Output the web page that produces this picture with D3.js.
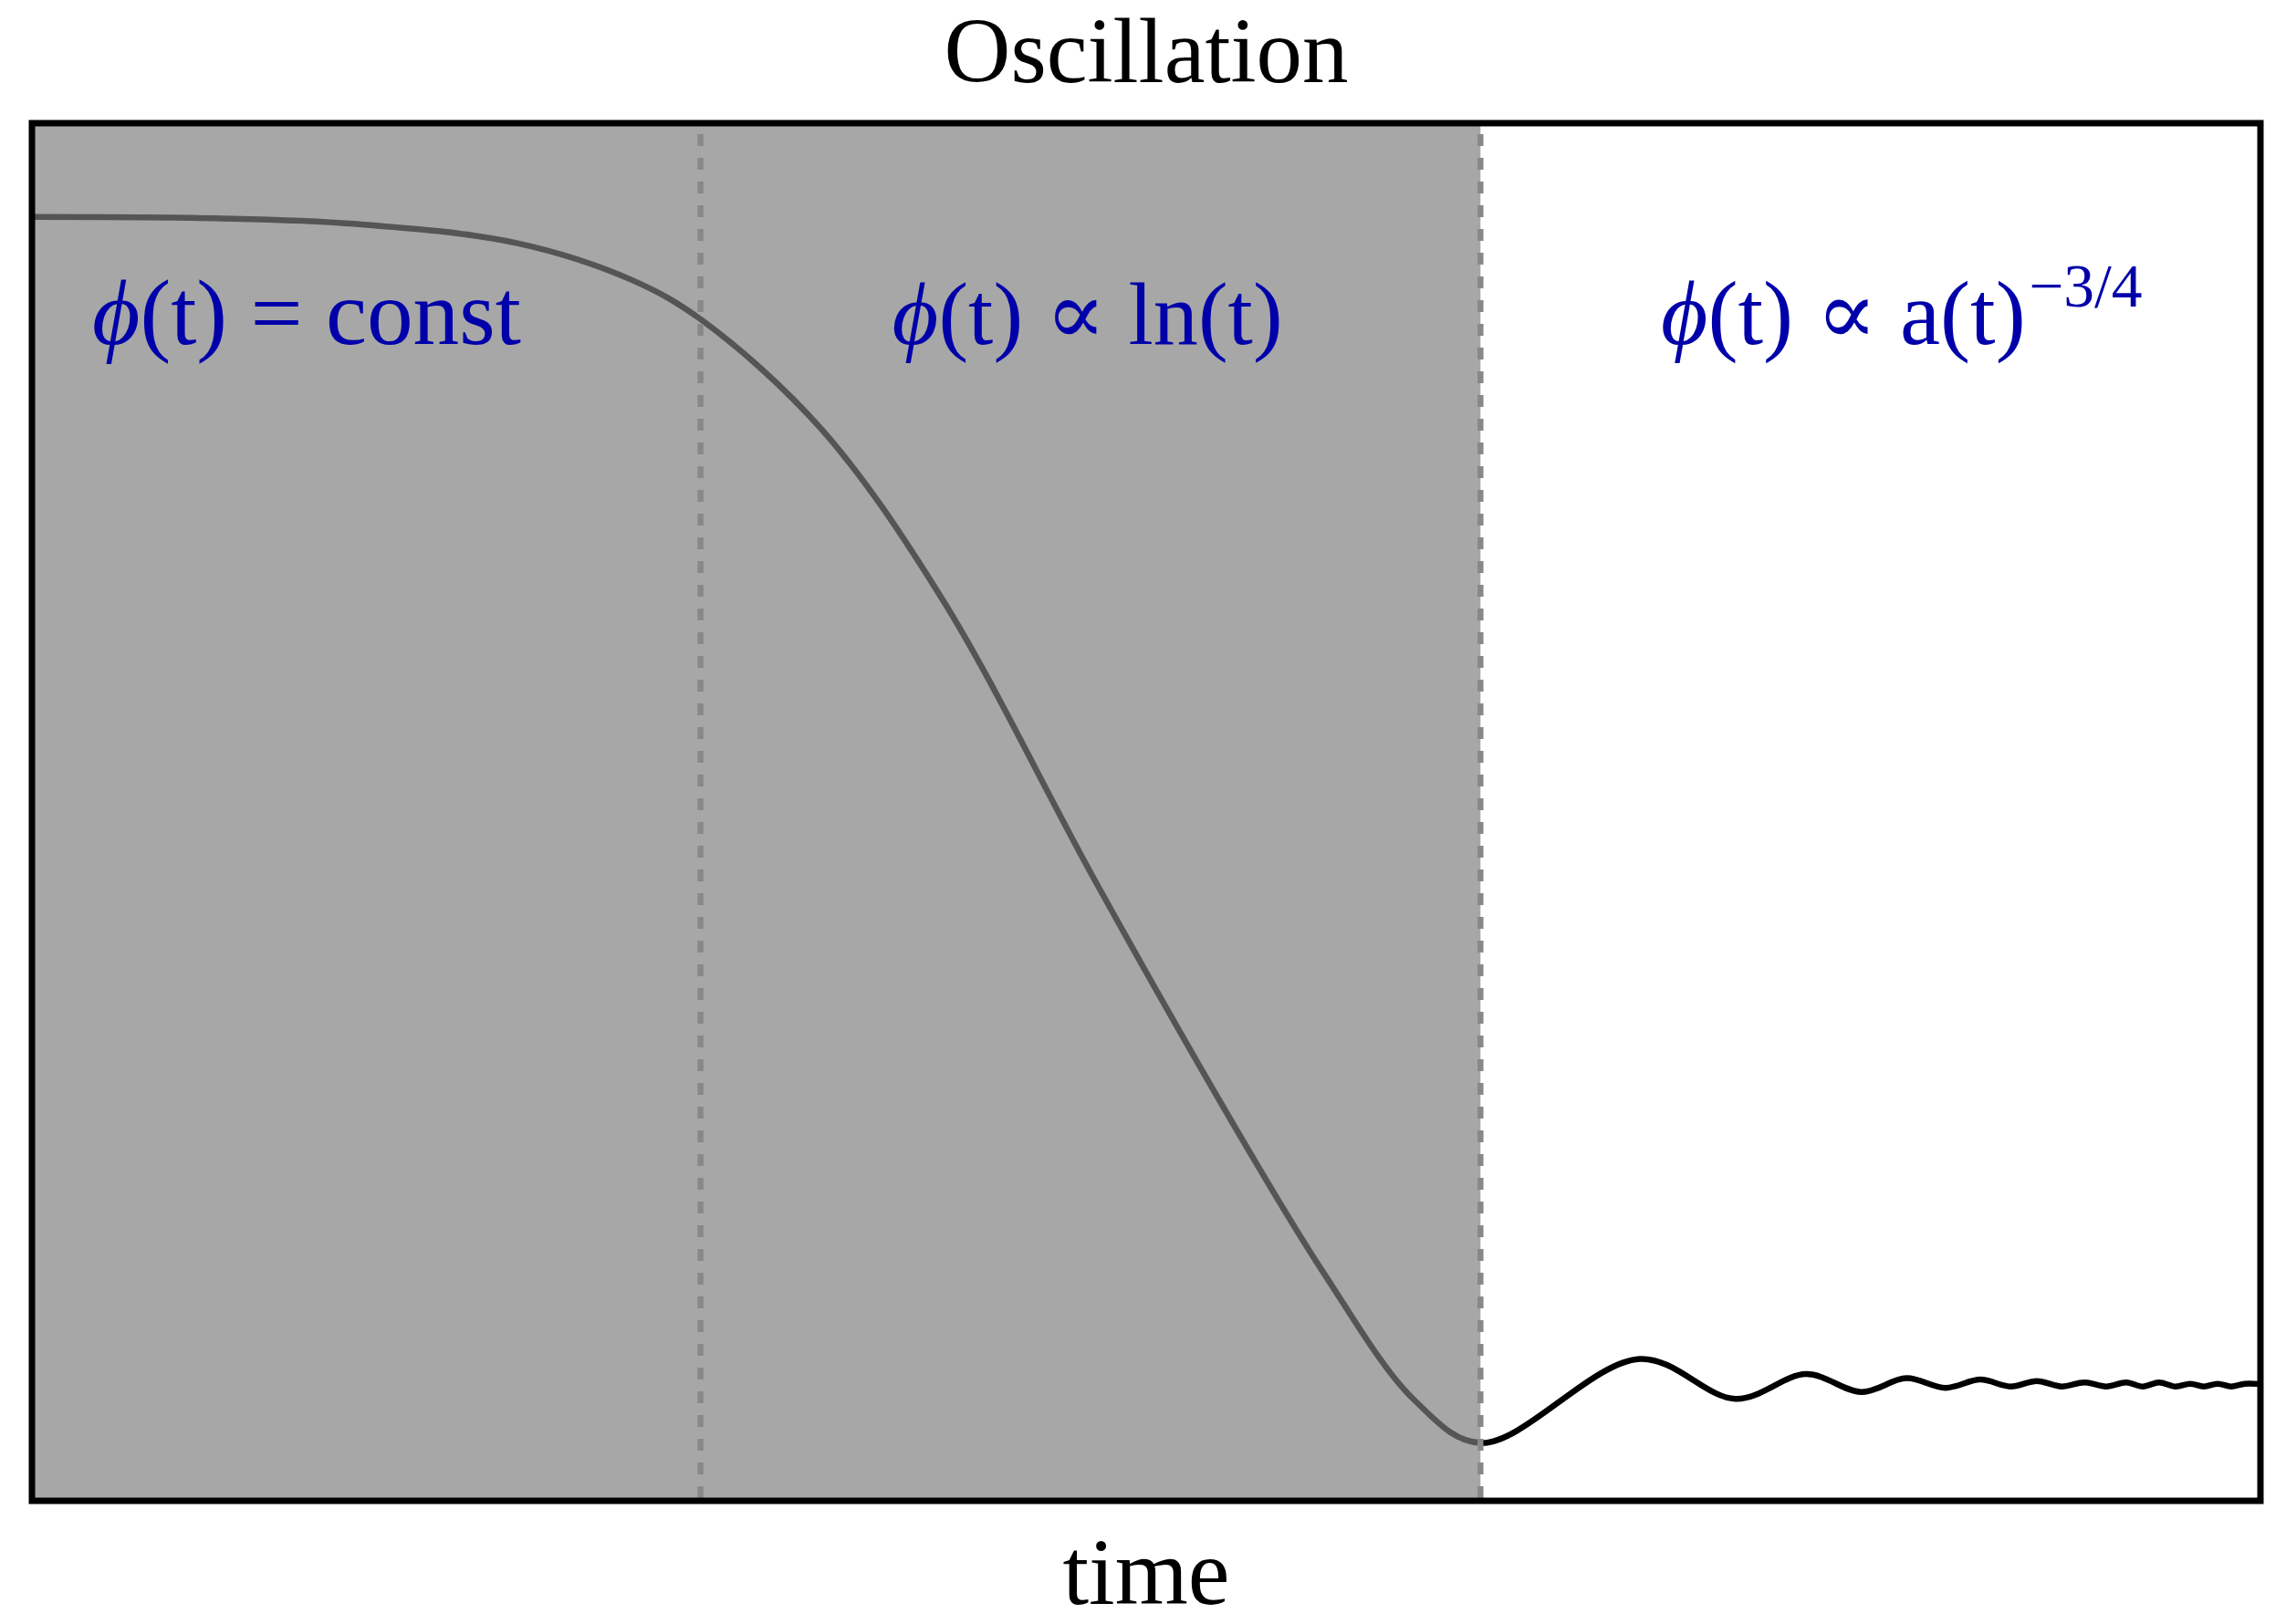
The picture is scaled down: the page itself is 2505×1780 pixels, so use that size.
<!DOCTYPE html>
<html>
<head>
<meta charset="utf-8">
<script src="https://cdn.jsdelivr.net/npm/d3@7"></script>
<style>
  html, body { margin: 0; padding: 0; background: #fff; }
  svg { display: block; }
</style>
</head>
<body>
<script>
// Field amplitude φ against time (time in arbitrary units, 0–100):
// slow-roll plateau, roll-down, then damped oscillation (turning points)
const timeValues = [
  0, 8.15, 14.41, 21.74, 26.94, 30.06, 35.42, 40.87, 47.71, 53.85,
  57.94, 62.04, 65.03, 72.15, 76.45, 79.61, 82.10, 84.11, 85.87, 87.43,
  88.78, 89.97, 91.07, 92.10, 93.08, 93.98, 94.72, 95.45, 96.19, 96.85,
  97.46, 98.08, 98.69, 99.30, 100
];
const phiValues = [
  0.932, 0.931, 0.927, 0.913, 0.886, 0.857, 0.778, 0.654, 0.450, 0.275,
  0.166, 0.073, 0.042, 0.103, 0.074, 0.092, 0.079, 0.089, 0.082, 0.088,
  0.083, 0.087, 0.083, 0.086, 0.083, 0.086, 0.083, 0.086, 0.083, 0.085,
  0.083, 0.085, 0.083, 0.085, 0.0848
];

// Phase boundaries (time) and the labels of the three regimes
const phaseEdges = [30, 65];
const phaseLabels = ["\u03D5(t) = const", "\u03D5(t) \u221D ln(t)", "\u03D5(t) \u221D a(t)"];
const phaseLabelSup = ["", "", "\u22123/4"];
const phaseLabelTime = [2.7, 38.6, 73.1];
const phaseLabelPhi = 0.84;
const phaseLabelWidth = [470, 428, 524];

const titleText = "Oscillation";
const xLabelText = "time";

const W = 2505, H = 1780;
const frame = { left: 35, right: 2477, top: 135, bottom: 1645 };

const svg = d3.select("body").append("svg")
  .attr("width", W).attr("height", H)
  .attr("viewBox", `0 0 ${W} ${H}`);

svg.append("rect").attr("width", W).attr("height", H).attr("fill", "#fff");

const x = d3.scaleLinear().domain([0, 100]).range([frame.left, frame.right]);
const y = d3.scaleLinear().domain([0, 1]).range([frame.bottom, frame.top]);

const points = timeValues.map((t, i) => [t, phiValues[i]]);

// field curve
const line = d3.line()
  .x(d => x(d[0]))
  .y(d => y(d[1]))
  .curve(d3.curveCatmullRom.alpha(0.5));

svg.append("path")
  .datum(points)
  .attr("d", line)
  .attr("fill", "none")
  .attr("stroke", "#000")
  .attr("stroke-width", 6.5)
  .attr("stroke-linejoin", "round");

// translucent shading over the pre-oscillation phases
svg.append("rect")
  .attr("x", x(0))
  .attr("y", y(1))
  .attr("width", x(phaseEdges[1]) - x(0))
  .attr("height", y(0) - y(1))
  .attr("fill", "rgb(125,125,125)")
  .attr("fill-opacity", 0.68);

// dashed phase boundaries
svg.selectAll("line.edge")
  .data(phaseEdges)
  .join("line")
  .attr("class", "edge")
  .attr("x1", d => x(d)).attr("x2", d => x(d))
  .attr("y1", y(1)).attr("y2", y(0))
  .attr("stroke", "#888")
  .attr("stroke-width", 6.5)
  .attr("stroke-dasharray", "13,13")
  .attr("stroke-dashoffset", 14);

// axes frame
svg.append("rect")
  .attr("x", x(0)).attr("y", y(1))
  .attr("width", x(100) - x(0))
  .attr("height", y(0) - y(1))
  .attr("fill", "none")
  .attr("stroke", "#000")
  .attr("stroke-width", 7);

const serif = "'Liberation Serif', 'DejaVu Serif', serif";

// scale a text's font so it spans the given width
function fitWidth(sel, width) {
  const fs = parseFloat(sel.attr("font-size"));
  const w = sel.node().getComputedTextLength();
  if (w > 0) sel.attr("font-size", fs * width / w);
}

// phase labels
phaseLabels.forEach((lab, i) => {
  const t = svg.append("text")
    .attr("x", x(phaseLabelTime[i]))
    .attr("y", y(phaseLabelPhi))
    .attr("font-family", serif)
    .attr("font-size", 90)
    .attr("fill", "#0000aa");
  const parts = lab.split("\u03D5");
  // italic phi, upright remainder
  t.append("tspan").attr("font-style", "italic").text("\u03D5");
  t.append("tspan").text(parts[1]);
  if (phaseLabelSup[i]) {
    t.append("tspan")
      .attr("font-size", "0.68em")
      .attr("dy", "-0.6em")
      .attr("dx", "0.05em")
      .text(phaseLabelSup[i]);
  }
  fitWidth(t, phaseLabelWidth[i]);
});

// title
const title = svg.append("text")
  .attr("x", (frame.left + frame.right) / 2)
  .attr("y", 90)
  .attr("text-anchor", "middle")
  .attr("font-family", serif)
  .attr("font-size", 100)
  .attr("fill", "#000")
  .text(titleText);
fitWidth(title, 443);

// x-axis label
const xl = svg.append("text")
  .attr("x", (frame.left + frame.right) / 2)
  .attr("y", 1758)
  .attr("text-anchor", "middle")
  .attr("font-family", serif)
  .attr("font-size", 100)
  .attr("fill", "#000")
  .text(xLabelText);
fitWidth(xl, 183);
</script>
</body>
</html>
